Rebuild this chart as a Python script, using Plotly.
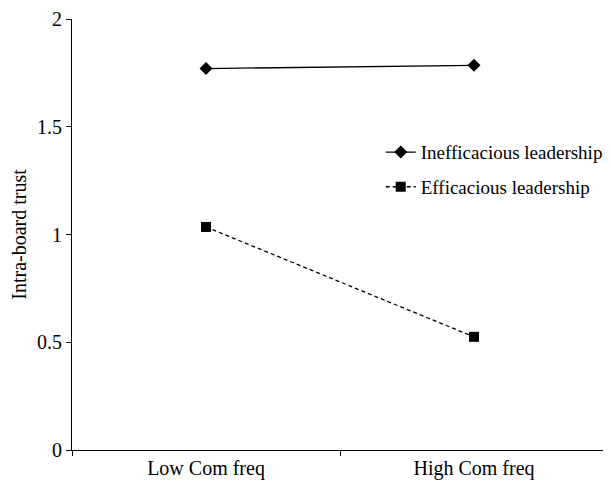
import plotly.graph_objects as go

categories = ["Low Com freq", "High Com freq"]
inefficacious = [1.77, 1.785]
efficacious = [1.035, 0.525]
series_names = ["Inefficacious leadership", "Efficacious leadership"]
y_ticks = [0, 0.5, 1, 1.5, 2]
y_ticklabels = ["0", "0.5", "1", "1.5", "2"]

font_family = "Liberation Serif, Times New Roman, serif"

fig = go.Figure()
fig.add_trace(go.Scatter(
    x=categories, y=inefficacious, name=series_names[0], mode="lines+markers",
    legendgroup="a",
    line=dict(color="black", width=1.3),
    marker=dict(symbol="diamond", size=10, color="black"),
))
fig.add_trace(go.Scatter(
    x=categories, y=efficacious, name=series_names[1], mode="lines+markers",
    legendgroup="b",
    line=dict(color="black", width=1.3, dash="4px,3px"),
    marker=dict(symbol="square", size=10, color="black"),
))

# Page body has an 8px margin: figure is shrunk/shifted accordingly.
fig.update_layout(
    width=603, height=480,
    margin=dict(l=64, r=3, t=11, b=38),
    paper_bgcolor="white", plot_bgcolor="white",
    font=dict(family=font_family, size=20, color="black"),
    showlegend=True,
    legend=dict(x=0.576, y=0.735, xanchor="left", yanchor="top",
                bgcolor="rgba(0,0,0,0)", font=dict(size=19, family=font_family),
                tracegroupgap=7, itemwidth=30),
    xaxis=dict(type="category", range=[-0.5, 1.5], showline=True, linecolor="black",
               linewidth=1, ticks="outside", tickson="boundaries", ticklen=5,
               tickcolor="black", showgrid=False, zeroline=False, automargin=False),
    yaxis=dict(range=[0, 2], showline=True, linecolor="black", linewidth=1,
               ticks="outside", ticklen=5, tickcolor="black", automargin=False,
               tickvals=y_ticks, ticktext=y_ticklabels, showgrid=False, zeroline=False,
               title=dict(text="Intra-board trust", font=dict(size=20), standoff=10)),
)

fig.write_html("out.html")
